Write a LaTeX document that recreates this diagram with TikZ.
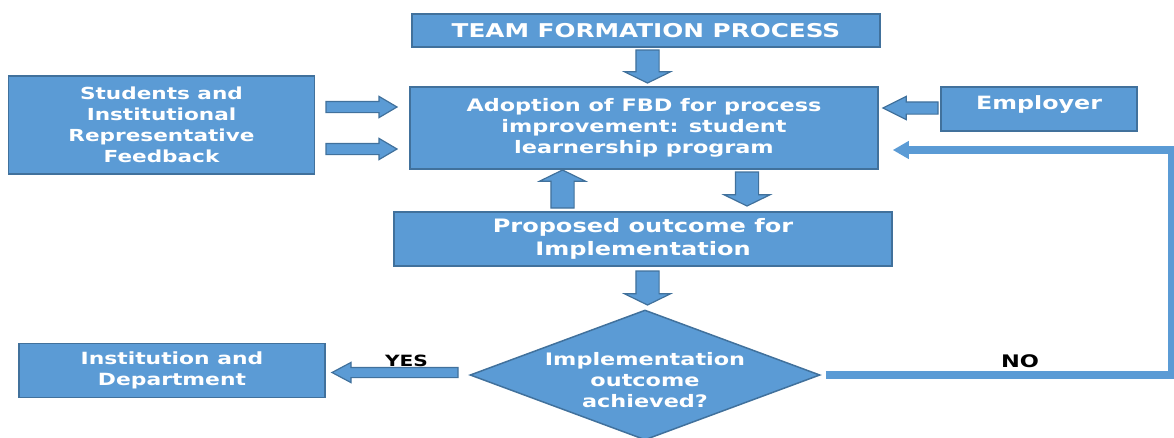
\documentclass[tikz,border=0pt]{standalone}
\usepackage{fontspec}
\newfontfamily\flowfont[FakeStretch=1.3]{DejaVu Sans}
\usepackage{tikz}
\usetikzlibrary{shapes.geometric,shapes.arrows,arrows.meta,positioning,calc}
\usepackage{xcolor}
\definecolor{flowblue}{HTML}{5B9BD5}
\definecolor{flowedge}{HTML}{41719C}

\tikzset{
  box/.style={draw=flowedge, fill=flowblue, line width=1.5pt, text=white,
    align=center, inner sep=0pt, font=\flowfont\bfseries\fontsize{17.2}{21}\selectfont},
  decision/.style={box, diamond},
  fat/.style={single arrow, draw=flowedge, fill=flowblue, line width=1.2pt,
    inner xsep=0pt, outer sep=0pt, single arrow head indent=0pt, anchor=tip},
  vfat/.style={fat, inner ysep=11pt, single arrow head extend=11.5pt,
    single arrow tip angle=128, minimum height=#1},
  hfat/.style={fat, inner ysep=5pt, single arrow head extend=5pt,
    single arrow tip angle=61, minimum height=#1},
  answer/.style={text=black, font=\flowfont\bfseries\fontsize{15.5}{18}\selectfont},
  loopback/.style={draw=flowblue, line width=8pt, line join=miter,
    -{Triangle[width=17pt,length=16pt]}, shorten <=5pt, shorten >=14pt}
}

\begin{document}
\begin{tikzpicture}[x=1pt, y=-1pt]
  \useasboundingbox (0,0) rectangle (1174,437);
  % boxes
  \node[box, minimum width=468pt, minimum height=33pt,
    font=\flowfont\bfseries\fontsize{19}{21}\selectfont] (team) at (646,30.5) {TEAM FORMATION PROCESS};
  \node[box, minimum width=468pt, minimum height=82pt] (adopt) at (644,128)
    {Adoption of FBD for process\\improvement: student\\learnership program};
  \node[box, minimum width=306pt, minimum height=98pt,
    font=\flowfont\bfseries\fontsize{16.6}{21}\selectfont] (stud) at (161.5,125)
    {Students and\\Institutional\\Representative\\Feedback};
  \node[box, minimum width=196pt, minimum height=44pt, text height=13.5pt, text depth=12.5pt,
    font=\flowfont\bfseries\fontsize{18.3}{21}\selectfont] (empl) at (1039,109) {Employer};
  \node[box, minimum width=498pt, minimum height=54pt,
    font=\flowfont\bfseries\fontsize{18.5}{23}\selectfont] (prop) at (643,239)
    {Proposed outcome for\\Implementation};
  \node[decision, minimum width=350pt, minimum height=130pt] (dec) at (645,375) {};
  \node[box, draw=none, fill=none] (dectext) at (645,380)
    {Implementation\\outcome\\achieved?};
  \node[box, minimum width=306pt, minimum height=54pt,
    font=\flowfont\bfseries\fontsize{16.8}{21}\selectfont] (inst) at (172,370.5)
    {Institution and\\Department};

  % block arrows, placed by their tips
  \node[vfat=33pt, rotate=-90] (a1) at (647.5,83) {};
  \node[vfat=38pt, rotate=90] (a2) at (562.5,170) {};
  \node[vfat=34pt, rotate=-90] (a3) at (747,206) {};
  \node[vfat=34pt, rotate=-90] (a4) at (647.5,305) {};
  \node[hfat=71pt] (a5) at (397,107) {};
  \node[hfat=71pt] (a6) at (397,149) {};
  \node[hfat=55pt, rotate=180, inner ysep=5.5pt, single arrow head extend=5.5pt,
    single arrow tip angle=53] (a7) at (883,108) {};
  \node[hfat=126pt, rotate=180, inner ysep=4.5pt, single arrow head extend=5pt,
    single arrow tip angle=56] (a8) at (332,372.5) {};

  % answers
  \node[answer] (yes) at (406.5,361) {YES};
  \node[answer, font=\flowfont\bfseries\fontsize{17.3}{18}\selectfont] (no) at (1020,361.5) {NO};
  \coordinate (back) at ([yshift=-22pt]adopt.east);
  \draw[loopback] (dec.east) -- ++(351,0) |- (back);
\end{tikzpicture}
\end{document}
